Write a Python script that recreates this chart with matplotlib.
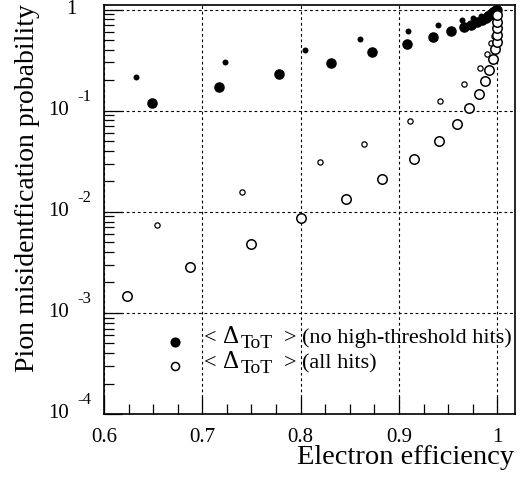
import matplotlib
matplotlib.use("Agg")
import matplotlib.pyplot as plt
import matplotlib.transforms as mtransforms
from matplotlib.lines import Line2D
from matplotlib.ticker import LogLocator, MultipleLocator, NullFormatter, FixedLocator

plt.rcParams['font.family'] = ['Liberation Serif', 'DejaVu Serif']
plt.rcParams['mathtext.fontset'] = 'stix'

# <Delta_ToT> without high-threshold hits, large markers
eff_nht_a = [0.649, 0.7173, 0.7783, 0.8306, 0.8728, 0.9082, 0.935, 0.9534, 0.9666,
             0.973, 0.979, 0.984, 0.988, 0.991, 0.994, 0.996, 0.998, 0.999, 1.0]
mis_nht_a = [0.120, 0.170, 0.232, 0.298, 0.380, 0.459, 0.535, 0.617, 0.676,
             0.71, 0.75, 0.79, 0.83, 0.87, 0.91, 0.94, 0.97, 0.99, 1.0]

# <Delta_ToT> without high-threshold hits, small markers
eff_nht_b = [0.6323, 0.7235, 0.8041, 0.8602, 0.9092, 0.9398, 0.9643,
             0.975, 0.983, 0.990, 0.995, 0.998, 1.0]
mis_nht_b = [0.215, 0.303, 0.395, 0.511, 0.613, 0.703, 0.787,
             0.82, 0.86, 0.91, 0.95, 0.98, 1.0]

# <Delta_ToT> with all hits, large markers
eff_all_a = [0.623, 0.6878, 0.7497, 0.800, 0.8459, 0.8827, 0.9153, 0.9405, 0.9592,
             0.9711, 0.9809, 0.9878, 0.9911, 0.9956, 0.998, 0.9995, 1.0, 1.0, 1.0, 1.0]
mis_all_a = [1.47e-3, 2.86e-3, 4.77e-3, 8.67e-3, 0.01337, 0.0211, 0.0332, 0.0504, 0.0741,
             0.107, 0.146, 0.196, 0.252, 0.322, 0.404, 0.477, 0.56, 0.655, 0.75, 0.88]

# <Delta_ToT> with all hits, small markers
eff_all_b = [0.6541, 0.7403, 0.8194, 0.8646, 0.9112, 0.9421, 0.9666, 0.9823, 0.9898,
             0.9939, 0.997, 0.9985, 0.9995, 1.0, 1.0]
mis_all_b = [7.38e-3, 0.01555, 0.031, 0.0471, 0.0784, 0.1245, 0.183, 0.262, 0.363,
             0.463, 0.547, 0.627, 0.718, 0.824, 0.945]

x_ticks = [0.6, 0.7, 0.8, 0.9, 1.0]
x_tick_labels = ["0.6", "0.7", "0.8", "0.9", "1"]
y_decades = [-4, -3, -2, -1, 0]
legend_tails = ["(no high-threshold hits)", "(all hits)"]

W, H = 526, 482
fig = plt.figure(figsize=(W / 100, H / 100), dpi=100)
ax = fig.add_axes([104 / W, 1 - 414 / H, 411 / W, 409 / H])


def ax_x(px):
    return (px - 104) / 411


def ax_y(py):
    return (414 - py) / 409


ax.set_yscale('log')
ax.set_xlim(0.6, 1.018)
ax.set_ylim(1e-4, 1.108)

ax.plot(eff_nht_b, mis_nht_b, 'o', color='black', ms=4.3, mew=0, zorder=3)
ax.plot(eff_nht_a, mis_nht_a, 'o', color='black', ms=7.6, mew=0, zorder=3)
ax.plot(eff_all_b, mis_all_b, 'o', mfc='white', mec='black', ms=3.8, mew=0.9, zorder=3)
ax.plot(eff_all_a, mis_all_a, 'o', mfc='white', mec='black', ms=6.8, mew=1.1, zorder=3)

# grid and frame
ax.grid(True, which='major', color='black', linestyle=(0, (2.5, 2.5)), linewidth=0.8)
for s in ax.spines.values():
    s.set_linewidth(1.2)

ax.xaxis.set_major_locator(FixedLocator(x_ticks))
ax.xaxis.set_minor_locator(MultipleLocator(0.025))
ax.set_xticklabels(x_tick_labels)
ax.yaxis.set_major_locator(LogLocator(base=10, numticks=10))
ax.yaxis.set_minor_locator(LogLocator(base=10, subs=range(2, 10), numticks=20))
ax.yaxis.set_major_formatter(NullFormatter())
ax.yaxis.set_minor_formatter(NullFormatter())
ax.tick_params(which='both', direction='in', top=False, right=False, width=0.9, color='black')
ax.tick_params(which='major', length=13)
ax.tick_params(which='minor', length=7)
ax.tick_params(axis='x', which='major', labelsize=15, pad=10)

# log-axis labels in the "10  -k" style
ytr = ax.get_yaxis_transform()
for d in y_decades:
    v = 10.0 ** d
    if d == 0:
        ax.text(-0.066, v, "1", transform=ytr, ha='right', va='center', fontsize=15)
    else:
        ax.text(-0.085, v, "10", transform=ytr, ha='right', va='center', fontsize=15)
        off = mtransforms.offset_copy(ytr, fig=fig, x=0, y=10, units='points')
        ax.text(-0.064, v, "%d" % d, transform=off, ha='left', va='center', fontsize=12)

fig.text(514 / W, 1 - 464 / H, "Electron efficiency", ha='right', va='baseline', fontsize=20.5)
fig.text(28 / W, 1 - 4 / H, "Pion misidentfication probability", rotation=90,
         ha='center', va='top', fontsize=20)

# legend keys
handles = [
    Line2D([], [], marker='o', ls='none', color='black', ms=7.3, mew=0),
    Line2D([], [], marker='o', ls='none', mfc='white', mec='black', ms=5.8, mew=1.1),
]
ax.legend(handles, ["", ""], loc='upper left', bbox_to_anchor=(ax_x(166.7), ax_y(335.4)),
          frameon=False, fontsize=12, handlelength=1.0, handletextpad=0.0,
          borderaxespad=0, borderpad=0, labelspacing=0.53)

# legend labels: < Delta_ToT > (...)
for baseline, tail in zip([343, 368], legend_tails):
    yb = ax_y(baseline)
    ax.text(ax_x(204), yb, "<", transform=ax.transAxes, fontsize=16, va='baseline')
    ax.text(ax_x(223), yb, "\u0394", transform=ax.transAxes, fontsize=18, va='baseline')
    ax.text(ax_x(241), ax_y(baseline + 5), "ToT", transform=ax.transAxes, fontsize=14,
            va='baseline')
    ax.text(ax_x(284), yb, ">", transform=ax.transAxes, fontsize=16, va='baseline')
    ax.text(ax_x(302), yb, tail, transform=ax.transAxes, fontsize=16, va='baseline')

fig.savefig("out.png", dpi=100)
